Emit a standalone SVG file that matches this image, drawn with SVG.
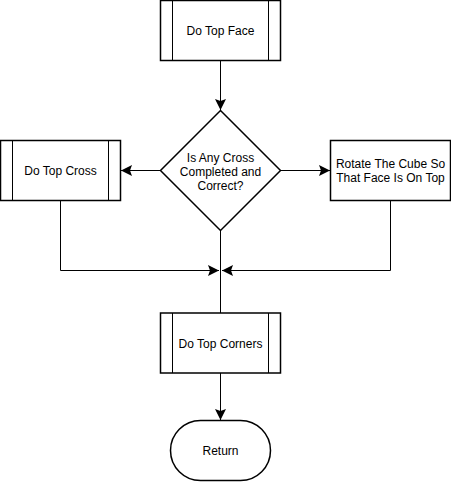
<svg xmlns="http://www.w3.org/2000/svg" width="451" height="482" viewBox="0 0 451 482">
  <defs>
    <style>
      .shape { fill: #ffffff; stroke: #000000; stroke-width: 1.5; }
      .inner { fill: none; stroke: #000000; stroke-width: 1; }
      .edge { fill: none; stroke: #000000; stroke-width: 1; }
      .label { font-family: "Liberation Sans", Arial, Helvetica, sans-serif; font-size: 12px; fill: #000000; text-anchor: middle; dominant-baseline: central; }
    </style>
    <marker id="arrow" viewBox="0 0 12 12" refX="11" refY="6" markerWidth="12" markerHeight="12" markerUnits="userSpaceOnUse" orient="auto">
      <path d="M0,0.5 L11,6 L0,11.5 L2,6 Z" fill="#000000" stroke="none"/>
    </marker>
  </defs>

  <rect width="451" height="482" fill="#ffffff"/>

  <!-- connectors -->
  <g id="connectors">
    <path class="edge" d="M220.5,60.5 L220.5,110" marker-end="url(#arrow)"/>
    <path class="edge" d="M160.5,170.5 L121,170.5" marker-end="url(#arrow)"/>
    <path class="edge" d="M280.5,170.5 L330,170.5" marker-end="url(#arrow)"/>
    <path class="edge" d="M60.5,200.5 L60.5,270.5 L219,270.5" marker-end="url(#arrow)"/>
    <path class="edge" d="M390.5,200.5 L390.5,270.5 L222,270.5" marker-end="url(#arrow)"/>
    <path class="edge" d="M220.5,230.5 L220.5,313"/>
    <path class="edge" d="M220.5,372.5 L220.5,420" marker-end="url(#arrow)"/>
  </g>

  <!-- predefined process: Do Top Face -->
  <g id="do-top-face">
    <rect class="shape" x="160.5" y="0.5" width="120" height="60"/>
    <line class="inner" x1="172.5" y1="0.5" x2="172.5" y2="60.5"/>
    <line class="inner" x1="268.5" y1="0.5" x2="268.5" y2="60.5"/>
    <text class="label" x="220.5" y="31">Do Top Face</text>
  </g>

  <!-- decision -->
  <g id="cross-check">
    <path class="shape" d="M220.5,110.5 L280.5,170.5 L220.5,230.5 L160.5,170.5 Z"/>
    <text class="label" x="220.5" y="157.5">Is Any Cross</text>
    <text class="label" x="220.5" y="171.5">Completed and</text>
    <text class="label" x="220.5" y="185.5">Correct?</text>
  </g>

  <!-- predefined process: Do Top Cross -->
  <g id="do-top-cross">
    <rect class="shape" x="0.5" y="140.5" width="120" height="60"/>
    <line class="inner" x1="12.5" y1="140.5" x2="12.5" y2="200.5"/>
    <line class="inner" x1="108.5" y1="140.5" x2="108.5" y2="200.5"/>
    <text class="label" x="60.5" y="171">Do Top Cross</text>
  </g>

  <!-- process: rotate cube -->
  <g id="rotate-cube">
    <rect class="shape" x="330.5" y="140.5" width="120" height="60"/>
    <text class="label" x="390.5" y="164">Rotate The Cube So</text>
    <text class="label" x="390.5" y="178">That Face Is On Top</text>
  </g>

  <!-- predefined process: Do Top Corners -->
  <g id="do-top-corners">
    <rect class="shape" x="160.5" y="313" width="120" height="60"/>
    <line class="inner" x1="172.5" y1="313" x2="172.5" y2="373"/>
    <line class="inner" x1="268.5" y1="313" x2="268.5" y2="373"/>
    <text class="label" x="220.5" y="344">Do Top Corners</text>
  </g>

  <!-- terminator -->
  <g id="return">
    <rect class="shape" x="170.5" y="420.5" width="100" height="60" rx="30" ry="30"/>
    <text class="label" x="220.5" y="451">Return</text>
  </g>
</svg>
